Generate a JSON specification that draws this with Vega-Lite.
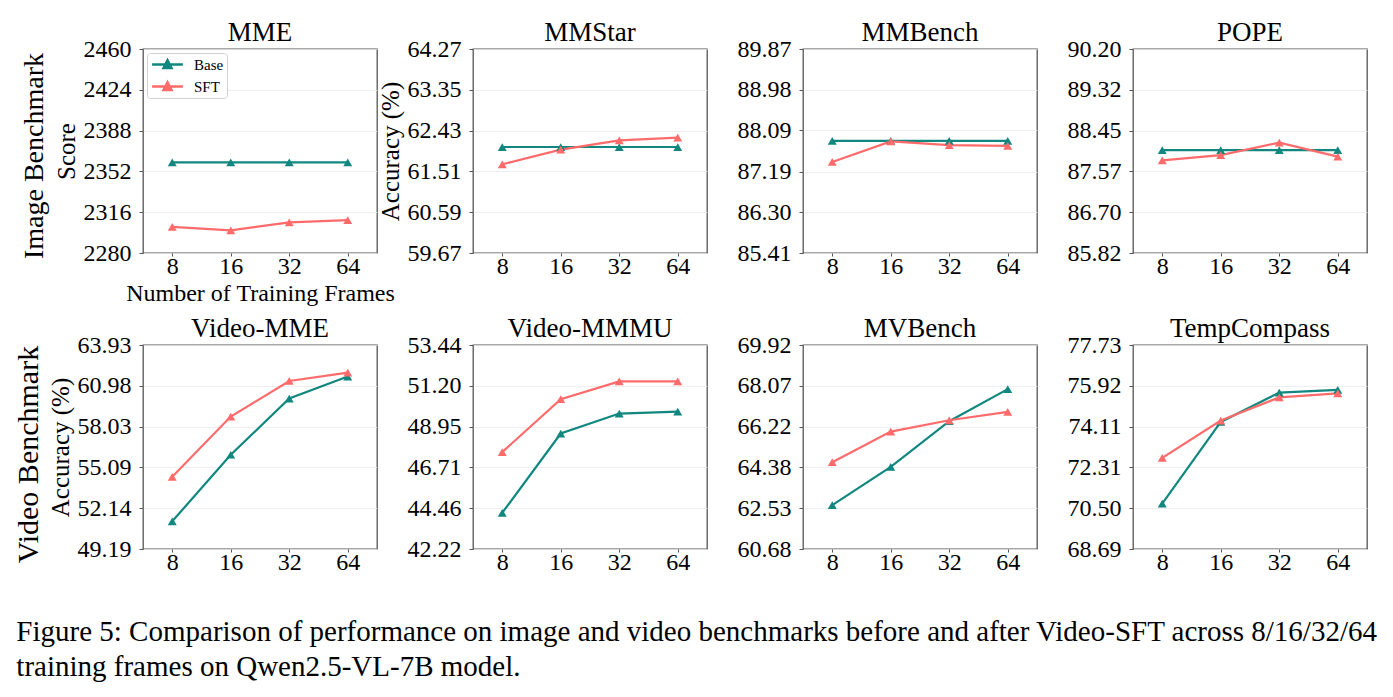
{
  "$schema": "https://vega.github.io/schema/vega-lite/v6.json",
  "padding": {"left": 14, "top": 18, "right": 5, "bottom": 5},
  "background": "white",
  "datasets": {
    "scores": [
      {"bench": "MME", "model": "Base", "frames": 8, "score": 2360},
      {"bench": "MME", "model": "Base", "frames": 16, "score": 2360},
      {"bench": "MME", "model": "Base", "frames": 32, "score": 2360},
      {"bench": "MME", "model": "Base", "frames": 64, "score": 2360},
      {"bench": "MME", "model": "SFT", "frames": 8, "score": 2303},
      {"bench": "MME", "model": "SFT", "frames": 16, "score": 2300},
      {"bench": "MME", "model": "SFT", "frames": 32, "score": 2307},
      {"bench": "MME", "model": "SFT", "frames": 64, "score": 2309},
      {"bench": "MMStar", "model": "Base", "frames": 8, "score": 62.06},
      {"bench": "MMStar", "model": "Base", "frames": 16, "score": 62.06},
      {"bench": "MMStar", "model": "Base", "frames": 32, "score": 62.06},
      {"bench": "MMStar", "model": "Base", "frames": 64, "score": 62.06},
      {"bench": "MMStar", "model": "SFT", "frames": 8, "score": 61.67},
      {"bench": "MMStar", "model": "SFT", "frames": 16, "score": 62.0},
      {"bench": "MMStar", "model": "SFT", "frames": 32, "score": 62.21},
      {"bench": "MMStar", "model": "SFT", "frames": 64, "score": 62.27},
      {"bench": "MMBench", "model": "Base", "frames": 8, "score": 87.86},
      {"bench": "MMBench", "model": "Base", "frames": 16, "score": 87.86},
      {"bench": "MMBench", "model": "Base", "frames": 32, "score": 87.86},
      {"bench": "MMBench", "model": "Base", "frames": 64, "score": 87.86},
      {"bench": "MMBench", "model": "SFT", "frames": 8, "score": 87.4},
      {"bench": "MMBench", "model": "SFT", "frames": 16, "score": 87.85},
      {"bench": "MMBench", "model": "SFT", "frames": 32, "score": 87.77},
      {"bench": "MMBench", "model": "SFT", "frames": 64, "score": 87.75},
      {"bench": "POPE", "model": "Base", "frames": 8, "score": 88.03},
      {"bench": "POPE", "model": "Base", "frames": 16, "score": 88.03},
      {"bench": "POPE", "model": "Base", "frames": 32, "score": 88.03},
      {"bench": "POPE", "model": "Base", "frames": 64, "score": 88.03},
      {"bench": "POPE", "model": "SFT", "frames": 8, "score": 87.81},
      {"bench": "POPE", "model": "SFT", "frames": 16, "score": 87.92},
      {"bench": "POPE", "model": "SFT", "frames": 32, "score": 88.19},
      {"bench": "POPE", "model": "SFT", "frames": 64, "score": 87.89},
      {"bench": "Video-MME", "model": "Base", "frames": 8, "score": 51.19},
      {"bench": "Video-MME", "model": "Base", "frames": 16, "score": 56.0},
      {"bench": "Video-MME", "model": "Base", "frames": 32, "score": 60.06},
      {"bench": "Video-MME", "model": "Base", "frames": 64, "score": 61.65},
      {"bench": "Video-MME", "model": "SFT", "frames": 8, "score": 54.41},
      {"bench": "Video-MME", "model": "SFT", "frames": 16, "score": 58.76},
      {"bench": "Video-MME", "model": "SFT", "frames": 32, "score": 61.33},
      {"bench": "Video-MME", "model": "SFT", "frames": 64, "score": 61.93},
      {"bench": "Video-MMMU", "model": "Base", "frames": 8, "score": 44.21},
      {"bench": "Video-MMMU", "model": "Base", "frames": 16, "score": 48.57},
      {"bench": "Video-MMMU", "model": "Base", "frames": 32, "score": 49.67},
      {"bench": "Video-MMMU", "model": "Base", "frames": 64, "score": 49.78},
      {"bench": "Video-MMMU", "model": "SFT", "frames": 8, "score": 47.55},
      {"bench": "Video-MMMU", "model": "SFT", "frames": 16, "score": 50.46},
      {"bench": "Video-MMMU", "model": "SFT", "frames": 32, "score": 51.44},
      {"bench": "Video-MMMU", "model": "SFT", "frames": 64, "score": 51.44},
      {"bench": "MVBench", "model": "Base", "frames": 8, "score": 62.67},
      {"bench": "MVBench", "model": "Base", "frames": 16, "score": 64.4},
      {"bench": "MVBench", "model": "Base", "frames": 32, "score": 66.47},
      {"bench": "MVBench", "model": "Base", "frames": 64, "score": 67.92},
      {"bench": "MVBench", "model": "SFT", "frames": 8, "score": 64.61},
      {"bench": "MVBench", "model": "SFT", "frames": 16, "score": 66.0},
      {"bench": "MVBench", "model": "SFT", "frames": 32, "score": 66.51},
      {"bench": "MVBench", "model": "SFT", "frames": 64, "score": 66.89},
      {"bench": "TempCompass", "model": "Base", "frames": 8, "score": 70.7},
      {"bench": "TempCompass", "model": "Base", "frames": 16, "score": 74.32},
      {"bench": "TempCompass", "model": "Base", "frames": 32, "score": 75.62},
      {"bench": "TempCompass", "model": "Base", "frames": 64, "score": 75.74},
      {"bench": "TempCompass", "model": "SFT", "frames": 8, "score": 72.73},
      {"bench": "TempCompass", "model": "SFT", "frames": 16, "score": 74.38},
      {"bench": "TempCompass", "model": "SFT", "frames": 32, "score": 75.41},
      {"bench": "TempCompass", "model": "SFT", "frames": 64, "score": 75.59}
    ]
  },
  "data": {"name": "scores"},
  "config": {
    "font": "Liberation Serif",
    "view": {"stroke": "#555555", "strokeWidth": 1.3},
    "axis": {
      "labelFont": "Liberation Serif", "labelFontSize": 24, "labelColor": "black",
      "titleFont": "Liberation Serif", "titleFontSize": 25, "titleFontWeight": "normal", "titleColor": "black",
      "gridColor": "#ebebeb", "gridWidth": 0.8, "domain": false,
      "tickColor": "#555555", "tickSize": 4, "labelOverlap": false, "labelFlush": false
    },
    "axisX": {"labelAngle": 0, "labelPadding": -2, "tickSize": 3},
    "axisY": {"titlePadding": 4, "labelPadding": 8},
    "title": {"font": "Liberation Serif", "fontSize": 27, "fontWeight": "normal", "color": "black", "offset": -10, "frame": "group"}
  },
  "title": {
    "text": ["Figure 5: Comparison of performance on image and video benchmarks before and after Video-SFT across 8/16/32/64", "training frames on Qwen2.5-VL-7B model."],
    "orient": "bottom", "anchor": "start", "frame": "bounds", "fontSize": 29, "lineHeight": 35, "offset": 43, "fontWeight": "normal", "font": "Liberation Serif", "color": "black", "dx": 2
  },
  "spacing": 8,
  "resolve": {"scale": {"color": "independent"}, "legend": {"color": "independent"}},
  "vconcat": [
    {
      "title": {"text": "Image Benchmark", "orient": "left", "anchor": "middle", "frame": "bounds", "fontSize": 28, "font": "Liberation Serif", "fontWeight": "normal", "color": "black", "offset": -4, "dy": -8, "dx": 6},
      "spacing": 96,
      "bounds": "flush",
      "resolve": {"scale": {"color": "independent"}, "legend": {"color": "independent"}},
      "hconcat": [
        {
          "title": "MME", "width": 234, "height": 204,
          "transform": [{"filter": "datum.bench === 'MME'"}],
          "mark": {"type": "line", "strokeWidth": 2.2, "point": {"shape": "triangle-up", "filled": true, "size": 80}},
          "encoding": {
            "x": {"field": "frames", "type": "ordinal", "sort": "ascending", "scale": {"type": "point", "padding": 0.5}, "axis": {"title": "Number of Training Frames", "titleFontSize": 24, "titlePadding": 3}},
            "y": {"field": "score", "type": "quantitative", "scale": {"domain": [2280, 2460], "zero": false, "nice": false}, "axis": {"values": [2280, 2316, 2352, 2388, 2424, 2460], "format": "d", "title": "Score"}},
            "color": {"field": "model", "type": "nominal", "scale": {"domain": ["Base", "SFT"], "range": ["#11877f", "#ff6b6b"]},
              "legend": {"orient": "top-left", "title": null, "offset": 4, "symbolType": "M-2.2,0L2.2,0M-0.57,0.5L0,-0.6L0.57,0.5Z", "symbolSize": 196, "symbolOffset": 9, "symbolStrokeWidth": 2.5, "labelOffset": 18, "labelFont": "Liberation Serif", "labelFontSize": 15, "labelColor": "black", "strokeColor": "#d0d0d0", "fillColor": "white", "padding": 3, "cornerRadius": 3, "rowPadding": 4,
                "encode": {"symbols": {"update": {"fill": {"signal": "datum.value === 'Base' ? '#11877f' : '#ff6b6b'"}}}}}}
          }
        },
        {
          "title": "MMStar", "width": 234, "height": 204,
          "transform": [{"filter": "datum.bench === 'MMStar'"}],
          "mark": {"type": "line", "strokeWidth": 2.2, "point": {"shape": "triangle-up", "filled": true, "size": 80}},
          "encoding": {
            "x": {"field": "frames", "type": "ordinal", "sort": "ascending", "scale": {"type": "point", "padding": 0.5}, "axis": {"title": null}},
            "y": {"field": "score", "type": "quantitative", "scale": {"domain": [59.67, 64.27], "zero": false, "nice": false}, "axis": {"values": [59.67, 60.59, 61.51, 62.43, 63.35, 64.27], "format": ".2f", "title": "Accuracy (%)"}},
            "color": {"field": "model", "type": "nominal", "scale": {"domain": ["Base", "SFT"], "range": ["#11877f", "#ff6b6b"]}, "legend": null}
          }
        },
        {
          "title": "MMBench", "width": 234, "height": 204,
          "transform": [{"filter": "datum.bench === 'MMBench'"}],
          "mark": {"type": "line", "strokeWidth": 2.2, "point": {"shape": "triangle-up", "filled": true, "size": 80}},
          "encoding": {
            "x": {"field": "frames", "type": "ordinal", "sort": "ascending", "scale": {"type": "point", "padding": 0.5}, "axis": {"title": null}},
            "y": {"field": "score", "type": "quantitative", "scale": {"domain": [85.41, 89.87], "zero": false, "nice": false}, "axis": {"values": [85.41, 86.30, 87.19, 88.09, 88.98, 89.87], "format": ".2f", "title": null}},
            "color": {"field": "model", "type": "nominal", "scale": {"domain": ["Base", "SFT"], "range": ["#11877f", "#ff6b6b"]}, "legend": null}
          }
        },
        {
          "title": "POPE", "width": 234, "height": 204,
          "transform": [{"filter": "datum.bench === 'POPE'"}],
          "mark": {"type": "line", "strokeWidth": 2.2, "point": {"shape": "triangle-up", "filled": true, "size": 80}},
          "encoding": {
            "x": {"field": "frames", "type": "ordinal", "sort": "ascending", "scale": {"type": "point", "padding": 0.5}, "axis": {"title": null}},
            "y": {"field": "score", "type": "quantitative", "scale": {"domain": [85.82, 90.20], "zero": false, "nice": false}, "axis": {"values": [85.82, 86.70, 87.57, 88.45, 89.32, 90.20], "format": ".2f", "title": null}},
            "color": {"field": "model", "type": "nominal", "scale": {"domain": ["Base", "SFT"], "range": ["#11877f", "#ff6b6b"]}, "legend": null}
          }
        }
      ]
    },
    {
      "title": {"text": "Video Benchmark", "orient": "left", "anchor": "middle", "frame": "bounds", "fontSize": 30, "font": "Liberation Serif", "fontWeight": "normal", "color": "black", "offset": -4, "dy": -7, "dx": -10},
      "spacing": 96,
      "bounds": "flush",
      "resolve": {"scale": {"color": "independent"}, "legend": {"color": "independent"}},
      "hconcat": [
        {
          "title": "Video-MME", "width": 234, "height": 204,
          "transform": [{"filter": "datum.bench === 'Video-MME'"}],
          "mark": {"type": "line", "strokeWidth": 2.2, "point": {"shape": "triangle-up", "filled": true, "size": 80}},
          "encoding": {
            "x": {"field": "frames", "type": "ordinal", "sort": "ascending", "scale": {"type": "point", "padding": 0.5}, "axis": {"title": null}},
            "y": {"field": "score", "type": "quantitative", "scale": {"domain": [49.19, 63.93], "zero": false, "nice": false}, "axis": {"values": [49.19, 52.14, 55.09, 58.03, 60.98, 63.93], "format": ".2f", "title": "Accuracy (%)"}},
            "color": {"field": "model", "type": "nominal", "scale": {"domain": ["Base", "SFT"], "range": ["#11877f", "#ff6b6b"]}, "legend": null}
          }
        },
        {
          "title": "Video-MMMU", "width": 234, "height": 204,
          "transform": [{"filter": "datum.bench === 'Video-MMMU'"}],
          "mark": {"type": "line", "strokeWidth": 2.2, "point": {"shape": "triangle-up", "filled": true, "size": 80}},
          "encoding": {
            "x": {"field": "frames", "type": "ordinal", "sort": "ascending", "scale": {"type": "point", "padding": 0.5}, "axis": {"title": null}},
            "y": {"field": "score", "type": "quantitative", "scale": {"domain": [42.22, 53.44], "zero": false, "nice": false}, "axis": {"values": [42.22, 44.46, 46.71, 48.95, 51.20, 53.44], "format": ".2f", "title": null}},
            "color": {"field": "model", "type": "nominal", "scale": {"domain": ["Base", "SFT"], "range": ["#11877f", "#ff6b6b"]}, "legend": null}
          }
        },
        {
          "title": "MVBench", "width": 234, "height": 204,
          "transform": [{"filter": "datum.bench === 'MVBench'"}],
          "mark": {"type": "line", "strokeWidth": 2.2, "point": {"shape": "triangle-up", "filled": true, "size": 80}},
          "encoding": {
            "x": {"field": "frames", "type": "ordinal", "sort": "ascending", "scale": {"type": "point", "padding": 0.5}, "axis": {"title": null}},
            "y": {"field": "score", "type": "quantitative", "scale": {"domain": [60.68, 69.92], "zero": false, "nice": false}, "axis": {"values": [60.68, 62.53, 64.38, 66.22, 68.07, 69.92], "format": ".2f", "title": null}},
            "color": {"field": "model", "type": "nominal", "scale": {"domain": ["Base", "SFT"], "range": ["#11877f", "#ff6b6b"]}, "legend": null}
          }
        },
        {
          "title": "TempCompass", "width": 234, "height": 204,
          "transform": [{"filter": "datum.bench === 'TempCompass'"}],
          "mark": {"type": "line", "strokeWidth": 2.2, "point": {"shape": "triangle-up", "filled": true, "size": 80}},
          "encoding": {
            "x": {"field": "frames", "type": "ordinal", "sort": "ascending", "scale": {"type": "point", "padding": 0.5}, "axis": {"title": null}},
            "y": {"field": "score", "type": "quantitative", "scale": {"domain": [68.69, 77.73], "zero": false, "nice": false}, "axis": {"values": [68.69, 70.50, 72.31, 74.11, 75.92, 77.73], "format": ".2f", "title": null}},
            "color": {"field": "model", "type": "nominal", "scale": {"domain": ["Base", "SFT"], "range": ["#11877f", "#ff6b6b"]}, "legend": null}
          }
        }
      ]
    }
  ]
}
